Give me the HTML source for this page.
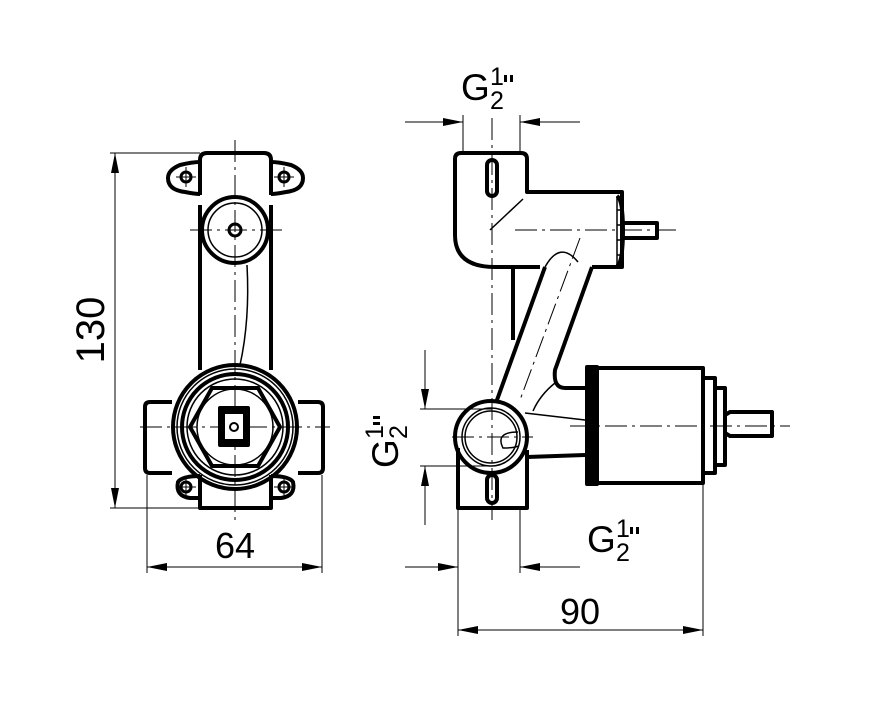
<!DOCTYPE html>
<html><head><style>
html,body{margin:0;padding:0;background:#fff;}
svg{display:block;}
text{font-family:"Liberation Sans",Arial,sans-serif;fill:#000;}
</style></head><body>
<svg width="872" height="720" viewBox="0 0 872 720" xmlns="http://www.w3.org/2000/svg">
<defs>
<marker id="a" viewBox="0 0 20 8" refX="20" refY="4" markerWidth="20" markerHeight="8" markerUnits="userSpaceOnUse" orient="auto"><path d="M0,0L20,4L0,8z" fill="#000"/></marker>
<g id="gh">
<text x="0" y="36" font-size="37">G</text>
<text x="29" y="21" font-size="25">1</text>
<text x="29" y="45" font-size="25">2</text>
<rect x="43" y="11" width="3" height="7" fill="#000"/>
<rect x="49" y="11" width="3" height="7" fill="#000"/>
</g>
</defs>
<g fill="none" stroke="#000">
<!-- LEFT VIEW -->
<g stroke-width="1" stroke-dasharray="22,5,3,5">
<line x1="235" y1="140" x2="235" y2="520"/>
<line x1="190" y1="230" x2="282" y2="230"/>
<line x1="140" y1="427" x2="330" y2="427"/>
</g>
<g stroke-width="4" stroke-linejoin="round">
<path d="M200,195 V160 Q200,153 207,153 H264 Q271,153 271,160 V195"/>
<path d="M200,162 Q192,162 180,165 Q168,170 168,178 Q168,190 185,192 Q195,194 200,194"/>
<path d="M271,162 Q279,162 291,165 Q303,170 303,178 Q303,190 286,192 Q276,194 271,194"/>
<line x1="200" y1="205" x2="200" y2="370"/>
<line x1="271" y1="205" x2="271" y2="370"/>
<circle cx="235" cy="230" r="33"/>
<circle cx="235" cy="427" r="62"/>
<circle cx="235" cy="427" r="53"/>
<polygon points="190,427 212,388 258,388 280,427 258,466 212,466"/>
<path d="M172,402 H150 Q145,402 145,407 V468 Q145,473 150,473 H172"/>
<path d="M298,402 H318 Q323,402 323,407 V468 Q323,473 318,473 H298"/>
<path d="M200,475 V508 H271 V475"/>
<path d="M200,476 Q182,476 178,482 Q175,496 190,498 L200,498"/>
<path d="M271,476 Q289,476 293,482 Q296,496 281,498 L271,498"/>
<rect x="220" y="408" width="28" height="37" fill="#000"/>
</g>
<g stroke-width="1.5">
<circle cx="235" cy="230" r="27"/>
<circle cx="235" cy="427" r="58"/>
<circle cx="235" cy="427" r="48"/>
<circle cx="235" cy="427" r="38"/>
<path d="M247,265 Q250,320 240,365"/>
</g>
<rect x="225" y="414" width="18" height="25" fill="#fff" stroke="none"/>
<circle cx="234" cy="427" r="4" stroke-width="2"/>
<circle cx="235" cy="230" r="6" stroke-width="3"/>
<g stroke-width="3"><circle cx="186" cy="177" r="5"/><circle cx="284" cy="177" r="5"/><circle cx="186" cy="487" r="5"/><circle cx="284" cy="487" r="5"/></g>
<g stroke-width="1"><line x1="176" y1="177" x2="196" y2="177"/><line x1="274" y1="177" x2="294" y2="177"/><line x1="176" y1="487" x2="196" y2="487"/><line x1="274" y1="487" x2="294" y2="487"/><line x1="186" y1="167" x2="186" y2="187"/><line x1="284" y1="167" x2="284" y2="187"/><line x1="186" y1="477" x2="186" y2="497"/><line x1="284" y1="477" x2="284" y2="497"/></g>
<!-- dims left -->
<g stroke-width="1">
<line x1="110" y1="153" x2="200" y2="153"/>
<line x1="110" y1="508" x2="200" y2="508"/>
<line x1="115" y1="330" x2="115" y2="153" marker-end="url(#a)"/>
<line x1="115" y1="330" x2="115" y2="508" marker-end="url(#a)"/>
<line x1="147" y1="475" x2="147" y2="573"/>
<line x1="322" y1="475" x2="322" y2="573"/>
<line x1="235" y1="567" x2="147" y2="567" marker-end="url(#a)"/>
<line x1="235" y1="567" x2="322" y2="567" marker-end="url(#a)"/>
</g>

<!-- RIGHT VIEW -->
<g stroke-width="1" stroke-dasharray="22,5,3,5">
<line x1="492" y1="118" x2="492" y2="520"/>
<line x1="515" y1="230" x2="676" y2="230"/>
<line x1="570" y1="426" x2="790" y2="426"/>
<line x1="452" y1="437" x2="533" y2="437"/>
<line x1="580" y1="238" x2="520" y2="400"/>
</g>
<g stroke-width="4" stroke-linejoin="round">
<path d="M540,267 H495 Q455,267 455,235 V159 Q455,153 461,153 H521 Q527,153 527,159 V192 H622 V267 H592"/>
<line x1="513" y1="267" x2="513" y2="340"/>
<path d="M545,267 L497,400"/>
<path d="M592,267 L555,370 Q553,388 565,388 H585"/>
<circle cx="491" cy="437" r="36"/>
<path d="M458,448 V508 H527 V450"/>
<rect x="487" y="160" width="10" height="36" rx="5"/>
<rect x="487" y="475" width="10" height="28" rx="5"/>
<path d="M527,457 L585,455"/>
<path d="M598,368 H703 V483 H598"/>
<rect x="587" y="367" width="10" height="117" fill="#000"/>
<path d="M703,378 H715 V473 H703"/>
<path d="M715,388 H725 V465 H715"/>
<path d="M725,415 L730,412 H772 V436 H730 L725,433"/>
<path d="M623,223 H657 V238 H623"/>
<path d="M617,196 Q623,200 623,230 Q623,262 617,266"/>
</g>
<g stroke-width="1.5">
<circle cx="491" cy="437" r="29"/>
<circle cx="491" cy="437" r="26"/>
<path d="M490,230 L523,199"/>
<path d="M545,267 Q560,240 578,262"/>
<path d="M525,413 L585,420"/>
<path d="M533,411 Q540,395 555,383"/>
<path d="M518,432 Q495,432 503,448 Q515,448 518,446"/>
<line x1="617" y1="196" x2="617" y2="266"/>
<line x1="617" y1="210" x2="623" y2="210"/><line x1="617" y1="225" x2="623" y2="225"/><line x1="617" y1="240" x2="623" y2="240"/><line x1="617" y1="255" x2="623" y2="255"/>
</g>
<!-- dims right -->
<g stroke-width="1">
<line x1="463" y1="115" x2="463" y2="153"/>
<line x1="520" y1="115" x2="520" y2="153"/>
<line x1="405" y1="122" x2="463" y2="122" marker-end="url(#a)"/>
<line x1="580" y1="122" x2="520" y2="122" marker-end="url(#a)"/>
<line x1="420" y1="409" x2="492" y2="409"/>
<line x1="420" y1="466" x2="492" y2="466"/>
<line x1="425" y1="350" x2="425" y2="409" marker-end="url(#a)"/>
<line x1="425" y1="525" x2="425" y2="466" marker-end="url(#a)"/>
<line x1="458" y1="508" x2="458" y2="636"/>
<line x1="520" y1="508" x2="520" y2="573"/>
<line x1="703" y1="483" x2="703" y2="636"/>
<line x1="405" y1="567" x2="458" y2="567" marker-end="url(#a)"/>
<line x1="580" y1="567" x2="520" y2="567" marker-end="url(#a)"/>
<line x1="580" y1="630" x2="458" y2="630" marker-end="url(#a)"/>
<line x1="580" y1="630" x2="703" y2="630" marker-end="url(#a)"/>
</g>
</g>
<text x="90" y="330" font-size="40" text-anchor="middle" transform="rotate(-90 90 330)" dy="14">130</text>
<text x="235" y="558" font-size="36" text-anchor="middle">64</text>
<text x="580" y="624" font-size="36" text-anchor="middle">90</text>
<use href="#gh" x="461" y="64"/>
<use href="#gh" x="587" y="516"/>
<g transform="translate(362,468) rotate(-90)"><use href="#gh" x="0" y="0"/></g>
</svg>
</body></html>
